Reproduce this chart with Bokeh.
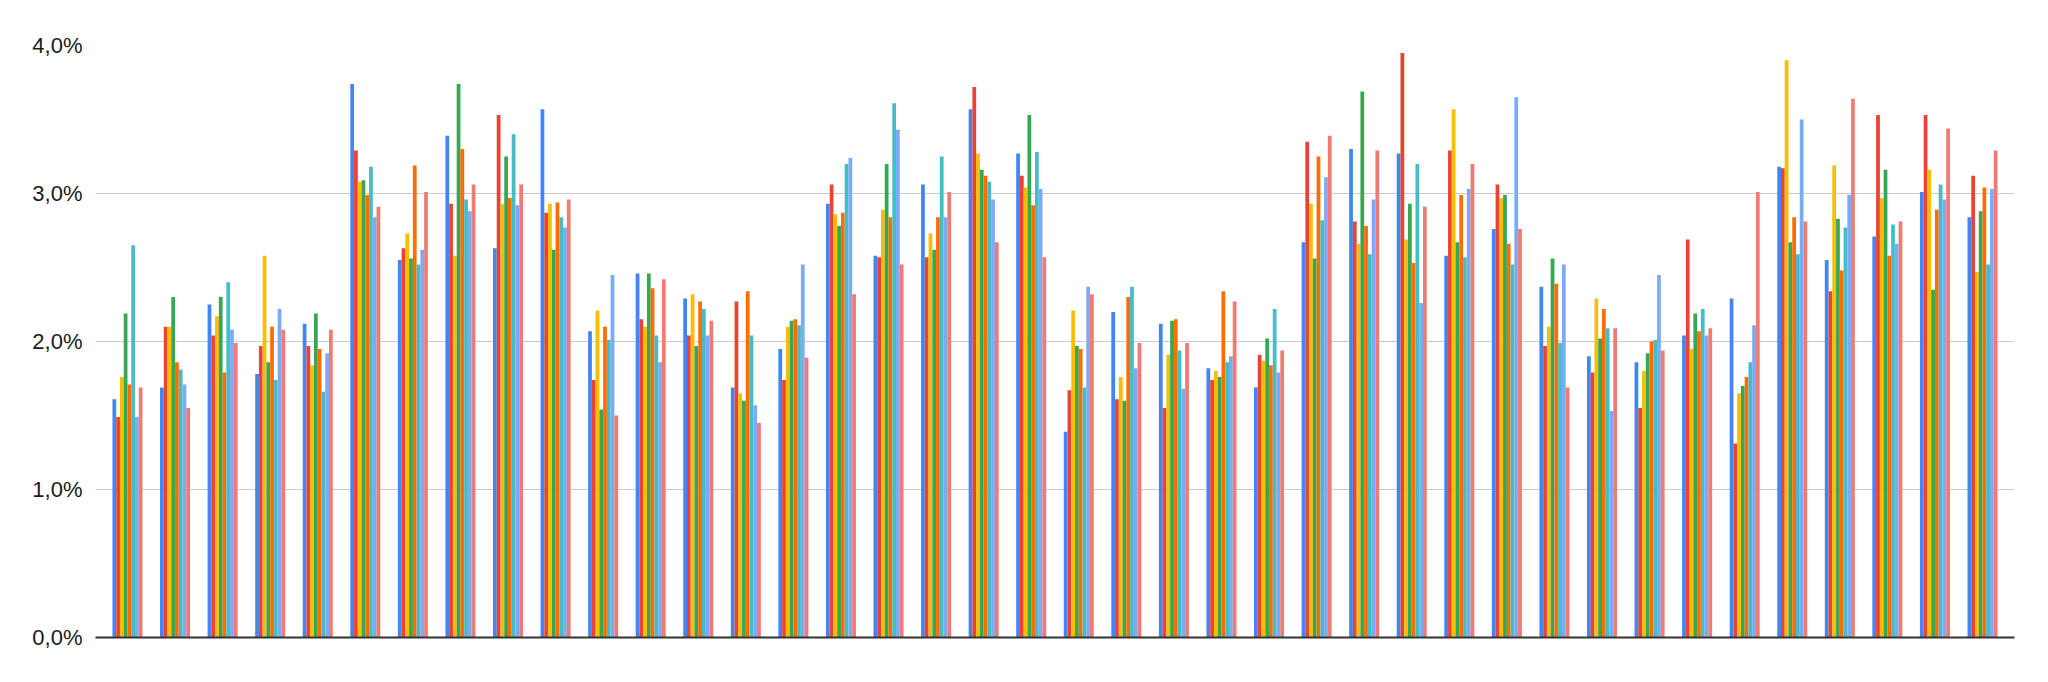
from bokeh.plotting import figure
from bokeh.models import Range1d, FixedTicker, ColumnDataSource
from bokeh.transform import dodge
from bokeh.embed import file_html
from bokeh.resources import INLINE

categories = list(range(1, 41))

s1 = [1.61, 1.69, 2.25, 1.78, 2.12, 3.74, 2.55, 3.39, 2.63, 3.57,
      2.07, 2.46, 2.29, 1.69, 1.95, 2.93, 2.58, 3.06, 3.57, 3.27,
      1.39, 2.20, 2.12, 1.82, 1.69, 2.67, 3.30, 3.27, 2.58, 2.76,
      2.37, 1.90, 1.86, 2.04, 2.29, 3.18, 2.55, 2.71, 3.01, 2.84]
s2 = [1.49, 2.10, 2.04, 1.97, 1.97, 3.29, 2.63, 2.93, 3.53, 2.87,
      1.74, 2.15, 2.04, 2.27, 1.74, 3.06, 2.57, 2.57, 3.72, 3.12,
      1.67, 1.61, 1.55, 1.74, 1.91, 3.35, 2.81, 3.95, 3.29, 3.06,
      1.97, 1.79, 1.55, 2.69, 1.31, 3.17, 2.34, 3.53, 3.53, 3.12]
s3 = [1.76, 2.10, 2.17, 2.58, 1.84, 3.08, 2.73, 2.58, 2.93, 2.93,
      2.21, 2.10, 2.32, 1.65, 2.10, 2.86, 2.89, 2.73, 3.27, 3.04,
      2.21, 1.76, 1.91, 1.80, 1.87, 2.93, 2.66, 2.69, 3.57, 2.97,
      2.10, 2.29, 1.80, 1.95, 1.65, 3.90, 3.19, 2.97, 3.16, 2.47]
s4 = [2.19, 2.30, 2.30, 1.86, 2.19, 3.09, 2.56, 3.74, 3.25, 2.62,
      1.54, 2.46, 1.97, 1.60, 2.14, 2.78, 3.20, 2.62, 3.16, 3.53,
      1.97, 1.60, 2.14, 1.76, 2.02, 2.56, 3.69, 2.93, 2.67, 2.99,
      2.56, 2.02, 1.92, 2.19, 1.70, 2.67, 2.83, 3.16, 2.35, 2.88]
s5 = [1.71, 1.86, 1.79, 2.10, 1.95, 2.99, 3.19, 3.30, 2.97, 2.94,
      2.10, 2.36, 2.27, 2.34, 2.15, 2.87, 2.84, 2.84, 3.12, 2.92,
      1.95, 2.30, 2.15, 2.34, 1.84, 3.25, 2.78, 2.53, 2.99, 2.66,
      2.39, 2.22, 2.00, 2.07, 1.76, 2.84, 2.48, 2.58, 2.89, 3.04]
s6 = [2.65, 1.81, 2.40, 1.74, 1.66, 3.18, 2.52, 2.96, 3.40, 2.84,
      2.01, 2.04, 2.22, 2.04, 2.11, 3.20, 3.61, 3.25, 3.08, 3.28,
      1.69, 2.37, 1.94, 1.86, 2.22, 2.82, 2.59, 3.20, 2.57, 2.52,
      1.99, 2.09, 2.01, 2.22, 1.86, 2.59, 2.77, 2.79, 3.06, 2.52]
s7 = [1.49, 1.71, 2.08, 2.22, 1.92, 2.84, 2.62, 2.88, 2.92, 2.77,
      2.45, 1.86, 2.04, 1.57, 2.52, 3.24, 3.43, 2.84, 2.96, 3.03,
      2.37, 1.82, 1.68, 1.90, 1.79, 3.11, 2.96, 2.26, 3.03, 3.65,
      2.52, 1.53, 2.45, 2.04, 2.11, 3.50, 2.99, 2.66, 2.96, 3.03]
s8 = [1.69, 1.55, 1.99, 2.08, 2.08, 2.91, 3.01, 3.06, 3.06, 2.96,
      1.50, 2.42, 2.14, 1.45, 1.89, 2.32, 2.52, 3.01, 2.67, 2.57,
      2.32, 1.99, 1.99, 2.27, 1.94, 3.39, 3.29, 2.91, 3.20, 2.76,
      1.69, 2.09, 1.94, 2.09, 3.01, 2.81, 3.64, 2.81, 3.44, 3.29]

series_names = ["s1", "s2", "s3", "s4", "s5", "s6", "s7", "s8"]
series_values = [s1, s2, s3, s4, s5, s6, s7, s8]
colors = ["#4285F4", "#EA4335", "#FBBC04", "#34A853",
          "#FF6D01", "#46BDC6", "#7BAAF7", "#F07B72"]

y_ticks = [0, 1, 2, 3, 4]
y_tick_labels = ["0,0%", "1,0%", "2,0%", "3,0%", "4,0%"]

data = {"x": [c - 1 for c in categories]}
for name, vals in zip(series_names, series_values):
    data[name] = vals
source = ColumnDataSource(data)

pad = 8.2 / 47.56
p = figure(width=2034, height=674, output_backend="svg", toolbar_location=None,
           x_range=Range1d(-0.5 - pad, len(categories) - 0.5 + pad),
           y_range=Range1d(0, 4),
           min_border_left=95, min_border_right=20, min_border_top=45,
           min_border_bottom=37)
p.outline_line_color = None
p.background_fill_color = "white"
p.border_fill_color = "white"

bw = 0.0789
n = len(series_names)
for i, (name, col) in enumerate(zip(series_names, colors)):
    off = (i - (n - 1) / 2) * bw
    p.vbar(x=dodge("x", off), top=name, width=bw, source=source,
           fill_color=col, line_color=None)

p.xgrid.grid_line_color = None
p.ygrid.grid_line_color = "#cccccc"
p.ygrid.grid_line_width = 1
p.yaxis.ticker = FixedTicker(ticks=y_ticks)
p.yaxis.major_label_overrides = {t: l for t, l in zip(y_ticks, y_tick_labels)}
p.yaxis.axis_line_color = None
p.yaxis.major_tick_line_color = None
p.yaxis.minor_tick_line_color = None
p.yaxis.major_label_standoff = 7
p.yaxis.major_label_text_font = "Liberation Sans"
p.yaxis.major_label_text_font_size = "22px"
p.yaxis.major_label_text_color = "#1a1a1a"

p.xaxis.major_label_text_font_size = "0px"
p.xaxis.major_tick_line_color = None
p.xaxis.minor_tick_line_color = None
p.xaxis.axis_line_color = "#333333"
p.xaxis.axis_line_width = 2
p.xaxis.ticker = FixedTicker(ticks=[])

open("out.html", "w").write(file_html(p, INLINE))
